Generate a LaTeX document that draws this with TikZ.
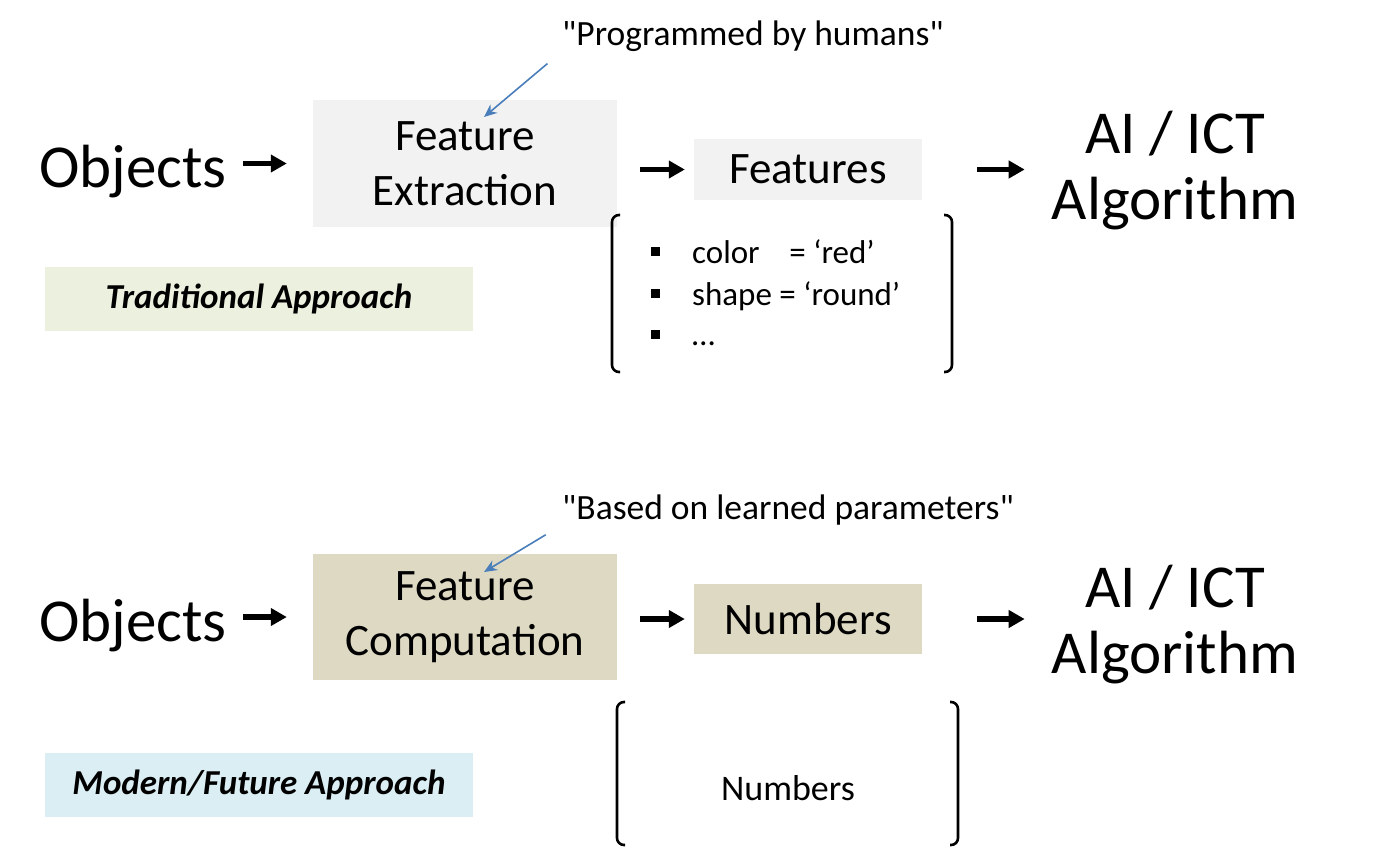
\documentclass[tikz,border=0pt]{standalone}
\usepackage{fontspec}
\setmainfont{Carlito}[Ligatures=TeXOff]
\usepackage{tikz}
\usetikzlibrary{arrows.meta}
\definecolor{boxgray}{HTML}{F2F2F2}
\definecolor{boxtan}{HTML}{DDD9C3}
\definecolor{labgreen}{HTML}{EBF1DE}
\definecolor{labblue}{HTML}{DAEEF3}
\definecolor{noteblue}{HTML}{4A7EBB}
\tikzstyle{flow} = [line width=5.5pt,-{Triangle[length=16pt,width=17pt]}]
\tikzstyle{note} = [noteblue,line width=1.6pt,-{Stealth[length=13pt,width=11pt]}]
\tikzstyle{word} = [inner sep=0pt,align=center]
\tikzstyle{step box} = [inner sep=0pt,align=center,font=\fontsize{45}{55}\selectfont]
\tikzstyle{bracket} = [line width=2.6pt,rounded corners=7pt]
\tikzstyle{bullet} = [fill=black,minimum size=9pt,inner sep=0pt]
\tikzstyle{label box} = [inner sep=0pt,minimum width=428pt,font=\fontsize{35}{40}\selectfont\bfseries\itshape]

\begin{document}
\begin{tikzpicture}[x=1pt,y=-1pt]
\useasboundingbox (0,0) rectangle (1400,863);
% traditional approach
\node[word,anchor=base,font=\fontsize{61}{66}\selectfont] (obj1) at (133,187) {Objects};
\node[step box,fill=boxgray,minimum width=304pt,minimum height=127pt] (fe) at (465,163.5) {Feature\\Extraction};
\node[step box,fill=boxgray,minimum width=228pt,minimum height=61pt] (fts) at (808,169.5) {Features};
\node[word,anchor=base,font=\fontsize{61}{66}\selectfont] (ai1) at (1175,219) {AI / ICT\\Algorithm};
\node[word,anchor=base west,font=\fontsize{35.5}{40}\selectfont] (prog) at (562,45) {"Programmed by humans"};
\node[label box,fill=labgreen,minimum height=64pt] (trad) at (259,299) {Traditional Approach};
\draw[flow,shorten <=16pt,shorten >=26pt] (obj1.east |- fe.west) -- (fe.west);
\draw[flow,shorten <=23pt,shorten >=9pt] (fe.east |- fts.west) -- (fts.west);
\draw[flow,shorten <=55pt,shorten >=27pt] (fts.east) -- (fts.east -| ai1.west);
\coordinate (tip1) at (484,117);
\draw[note,shorten <=19pt] (prog.south west) -- (tip1);
% feature list
\draw[bracket] (620,215) -- (612,215) -- (612,372) -- (620,372);
\draw[bracket] (944,215) -- (952,215) -- (952,372) -- (944,372);
\node[bullet] (b1) at (655,251) {};
\node[bullet] (b2) at (655,293) {};
\node[bullet] (b3) at (655,334) {};
\node[word,anchor=base west,font=\fontsize{33}{40}\selectfont] (it1) at (692,263) {color\hspace{0.9em}= ‘red’};
\node[word,anchor=base west,font=\fontsize{33}{40}\selectfont] (it2) at (692,305) {shape = ‘round’};
\node[word,anchor=base west,font=\fontsize{33}{40}\selectfont] (it3) at (692,345) {\dots};
% modern approach
\node[word,anchor=base,font=\fontsize{61}{66}\selectfont] (obj2) at (133,641) {Objects};
\node[step box,fill=boxtan,minimum width=304pt,minimum height=126pt] (fc) at (465,617) {Feature\\Computation};
\node[step box,fill=boxtan,minimum width=228pt,minimum height=70pt] (num) at (808,619) {Numbers};
\node[word,anchor=base,font=\fontsize{61}{66}\selectfont] (ai2) at (1175,673) {AI / ICT\\Algorithm};
\node[word,anchor=base west,font=\fontsize{35.5}{40}\selectfont] (learn) at (562,519) {"Based on learned parameters"};
\node[label box,fill=labblue,minimum height=64pt] (mod) at (259,785) {Modern/Future Approach};
\draw[flow,shorten <=16pt,shorten >=26pt] (obj2.east |- fc.west) -- (fc.west);
\draw[flow,shorten <=23pt,shorten >=9pt] (fc.east |- num.west) -- (num.west);
\draw[flow,shorten <=55pt,shorten >=27pt] (num.east) -- (num.east -| ai2.west);
\coordinate (tip2) at (484,572);
\draw[note,shorten <=19pt] (learn.south west) -- (tip2);
% numbers list
\draw[bracket] (625,702) -- (617,702) -- (617,845) -- (625,845);
\draw[bracket] (950,702) -- (958,702) -- (958,845) -- (950,845);
\node[word,anchor=base,font=\fontsize{36}{40}\selectfont] (nums) at (788,800) {Numbers};
\end{tikzpicture}
\end{document}
